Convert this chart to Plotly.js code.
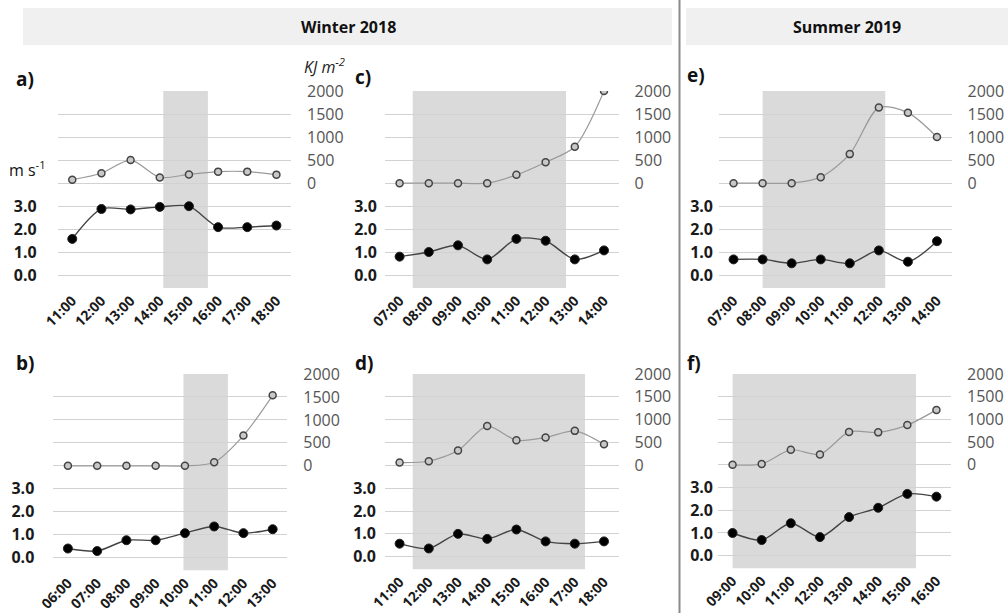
<!DOCTYPE html>
<html>
<head>
<meta charset="utf-8">
<script src="https://cdn.plot.ly/plotly-3.0.1.min.js"></script>
<style>html,body{margin:0;padding:0;background:#fff;}#chart{width:1008px;height:613px;}</style>
</head>
<body>
<div id="chart"></div>
<script>
// ---- data ----
const hoursA = ['11:00','12:00','13:00','14:00','15:00','16:00','17:00','18:00'];
const windA  = [1.58, 2.88, 2.86, 2.97, 3.0, 2.09, 2.09, 2.16];
const irrA   = [75, 215, 500, 125, 190, 250, 250, 185];
const shadeA = [3.12, 4.65];

const hoursB = ['06:00','07:00','08:00','09:00','10:00','11:00','12:00','13:00'];
const windB  = [0.40, 0.29, 0.76, 0.76, 1.07, 1.36, 1.07, 1.24];
const irrB   = [0, 0, 0, 0, 0, 80, 660, 1535];
const shadeB = [3.95, 5.47];

const hoursC = ['07:00','08:00','09:00','10:00','11:00','12:00','13:00','14:00'];
const windC  = [0.81, 1.01, 1.30, 0.69, 1.58, 1.50, 0.69, 1.08];
const irrC   = [0, 0, 0, 0, 180, 455, 790, 2000];
const shadeC = [0.45, 5.7];

const hoursD = ['11:00','12:00','13:00','14:00','15:00','16:00','17:00','18:00'];
const windD  = [0.57, 0.36, 1.0, 0.78, 1.19, 0.67, 0.57, 0.67];
const irrD   = [60, 90, 325, 860, 550, 610, 755, 460];
const shadeD = [0.45, 6.35];

const hoursE = ['07:00','08:00','09:00','10:00','11:00','12:00','13:00','14:00'];
const windE  = [0.69, 0.69, 0.52, 0.69, 0.52, 1.08, 0.59, 1.48];
const irrE   = [0, 0, 0, 130, 630, 1640, 1530, 1000];
const shadeE = [1.0, 5.22];

const hoursF = ['09:00','10:00','11:00','12:00','13:00','14:00','15:00','16:00'];
const windF  = [1.0, 0.69, 1.43, 0.82, 1.70, 2.11, 2.72, 2.60];
const irrF   = [0, 20, 330, 230, 725, 715, 875, 1210];
const shadeF = [0.0, 6.3];

const windTicks = [0, 1, 2, 3];
const windTickText = ['0.0', '1.0', '2.0', '3.0'];
const irrTicks = [0, 500, 1000, 1500, 2000];
const seasonTitles = ['Winter 2018', 'Summer 2019'];
const panelLabels = ['a)', 'b)', 'c)', 'd)', 'e)', 'f)'];

// ---- layout geometry (pixels) ----
const W = 1008, H = 613;
const FONT = 'Open Sans, sans-serif';
const LO = -0.55;
const panels = [
  {cats: hoursA, wind: windA, irr: irrA, shade: shadeA, x0: 57.7, x1: 291,   top: 91,  zero: 275.3, ls: 20},
  {cats: hoursB, wind: windB, irr: irrB, shade: shadeB, x0: 53.3, x1: 287.3, top: 374, zero: 557.7, ls: 18},
  {cats: hoursC, wind: windC, irr: irrC, shade: shadeC, x0: 385,  x1: 618.6, top: 91,  zero: 275.3, ls: 7},
  {cats: hoursD, wind: windD, irr: irrD, shade: shadeD, x0: 385,  x1: 618.6, top: 374, zero: 556.7, ls: 8},
  {cats: hoursE, wind: windE, irr: irrE, shade: shadeE, x0: 719,  x1: 951.5, top: 91,  zero: 275.3, ls: 5},
  {cats: hoursF, wind: windF, irr: irrF, shade: shadeF, x0: 718,  x1: 951,   top: 374, zero: 555.7, ls: 4}
];

const traces = [];
const layout = {
  width: W, height: H,
  margin: {l: 0, r: 0, t: 0, b: 0},
  paper_bgcolor: '#ffffff',
  plot_bgcolor: 'rgba(0,0,0,0)',
  showlegend: false,
  font: {family: FONT, color: '#222'},
  shapes: [],
  annotations: []
};

const GRID = '#d2d2d2';

panels.forEach((p, k) => {
  const i = k + 1;
  const xa = i === 1 ? 'xaxis' : 'xaxis' + i;
  const xn = i === 1 ? 'x' : 'x' + i;
  const yl = 2 * i - 1, yr = 2 * i;
  const yla = yl === 1 ? 'yaxis' : 'yaxis' + yl;
  const yln = yl === 1 ? 'y' : 'y' + yl;
  const yra = 'yaxis' + yr, yrn = 'y' + yr;
  const unit = (p.zero - p.top) / 8;
  const bottom = p.zero - LO * unit;
  const ydom = [1 - bottom / H, 1 - p.top / H];
  const xdom = [p.x0 / W, p.x1 / W];

  layout[xa] = {
    domain: xdom, anchor: yln, type: 'category', range: [-0.5, 7.5],
    tickangle: -45, showgrid: false, zeroline: false, showline: false, ticks: '',
    tickfont: {family: FONT, size: 14, color: '#1a1a1a', weight: 'bold'},
    ticklabelstandoff: 1, automargin: false
  };
  layout[yla] = {
    domain: ydom, anchor: xn, range: [LO, 8],
    tickmode: 'array', tickvals: windTicks, ticktext: windTickText,
    showgrid: true, gridcolor: GRID, gridwidth: 1, zeroline: false, showline: false, ticks: '',
    minor: {tickmode: 'linear', tick0: 0, dtick: 1, showgrid: true, gridcolor: GRID, gridwidth: 1, ticks: ''},
    tickfont: {family: FONT, size: 16, color: '#1a1a1a', weight: 'bold'},
    ticklabelstandoff: p.ls, automargin: false
  };
  layout[yra] = {
    domain: ydom, anchor: xn, overlaying: yln, side: 'right',
    range: [(LO - 4) * 500, 2000],
    tickmode: 'array', tickvals: irrTicks,
    showgrid: false, zeroline: false, showline: false, ticks: '',
    tickfont: {family: FONT, size: 16, color: '#555555'},
    ticklabelstandoff: 15, automargin: false
  };

  layout.shapes.push({
    type: 'rect', xref: xn, yref: yln + ' domain', x0: p.shade[0], x1: p.shade[1], y0: 0, y1: 1,
    fillcolor: '#dadada', line: {width: 0}, layer: 'below'
  });

  traces.push({
    type: 'scatter', mode: 'lines+markers', x: p.cats, y: p.irr, xaxis: xn, yaxis: yrn,
    line: {color: '#9a9a9a', width: 1.2, shape: 'spline', smoothing: 0.8},
    marker: {symbol: 'circle', size: 7, color: '#c8c8c8', line: {color: '#444', width: 1.5}},
    hoverinfo: 'skip'
  });
  traces.push({
    type: 'scatter', mode: 'lines+markers', x: p.cats, y: p.wind, xaxis: xn, yaxis: yln,
    line: {color: '#444444', width: 1.4, shape: 'spline', smoothing: 0.8},
    marker: {symbol: 'circle', size: 9, color: '#000', line: {color: '#222', width: 1}},
    hoverinfo: 'skip'
  });
});

// header bars + separator
layout.shapes.push({type: 'rect', xref: 'paper', yref: 'paper', x0: 23 / W, x1: 672 / W, y0: 1 - 45 / H, y1: 1 - 8 / H, fillcolor: '#f0f0f0', line: {width: 0}, layer: 'below'});
layout.shapes.push({type: 'rect', xref: 'paper', yref: 'paper', x0: 686 / W, x1: 1, y0: 1 - 45 / H, y1: 1 - 8 / H, fillcolor: '#f0f0f0', line: {width: 0}, layer: 'below'});
layout.shapes.push({type: 'line', xref: 'paper', yref: 'paper', x0: 679.5 / W, x1: 679.5 / W, y0: 0, y1: 1, line: {color: '#8a8a8a', width: 2}});

function ann(text, px, py, opts) {
  layout.annotations.push(Object.assign({
    text: text, xref: 'paper', yref: 'paper', x: px / W, y: 1 - py / H,
    showarrow: false, xanchor: 'left', yanchor: 'middle',
    font: {family: FONT, size: 15, color: '#111'}
  }, opts || {}));
}
ann(seasonTitles[0], 348, 27, {xanchor: 'center', font: {family: FONT, size: 16, color: '#111', weight: 'bold'}});
ann(seasonTitles[1], 847, 27, {xanchor: 'center', font: {family: FONT, size: 16, color: '#111', weight: 'bold'}});
const labPos = [[14, 79], [14, 363], [353, 77], [353, 363], [685, 75], [685, 363]];
panelLabels.forEach((t, k) => ann(t, labPos[k][0], labPos[k][1], {font: {family: FONT, size: 19, color: '#111', weight: 'bold'}}));
ann('<i>KJ m<sup>-2</sup></i>', 302, 66, {font: {family: FONT, size: 16, color: '#222'}});
ann('m s<sup>-1</sup>', 7, 169, {font: {family: FONT, size: 16, color: '#111'}});

Plotly.newPlot('chart', traces, layout, {staticPlot: true, displayModeBar: false});
</script>
</body>
</html>
